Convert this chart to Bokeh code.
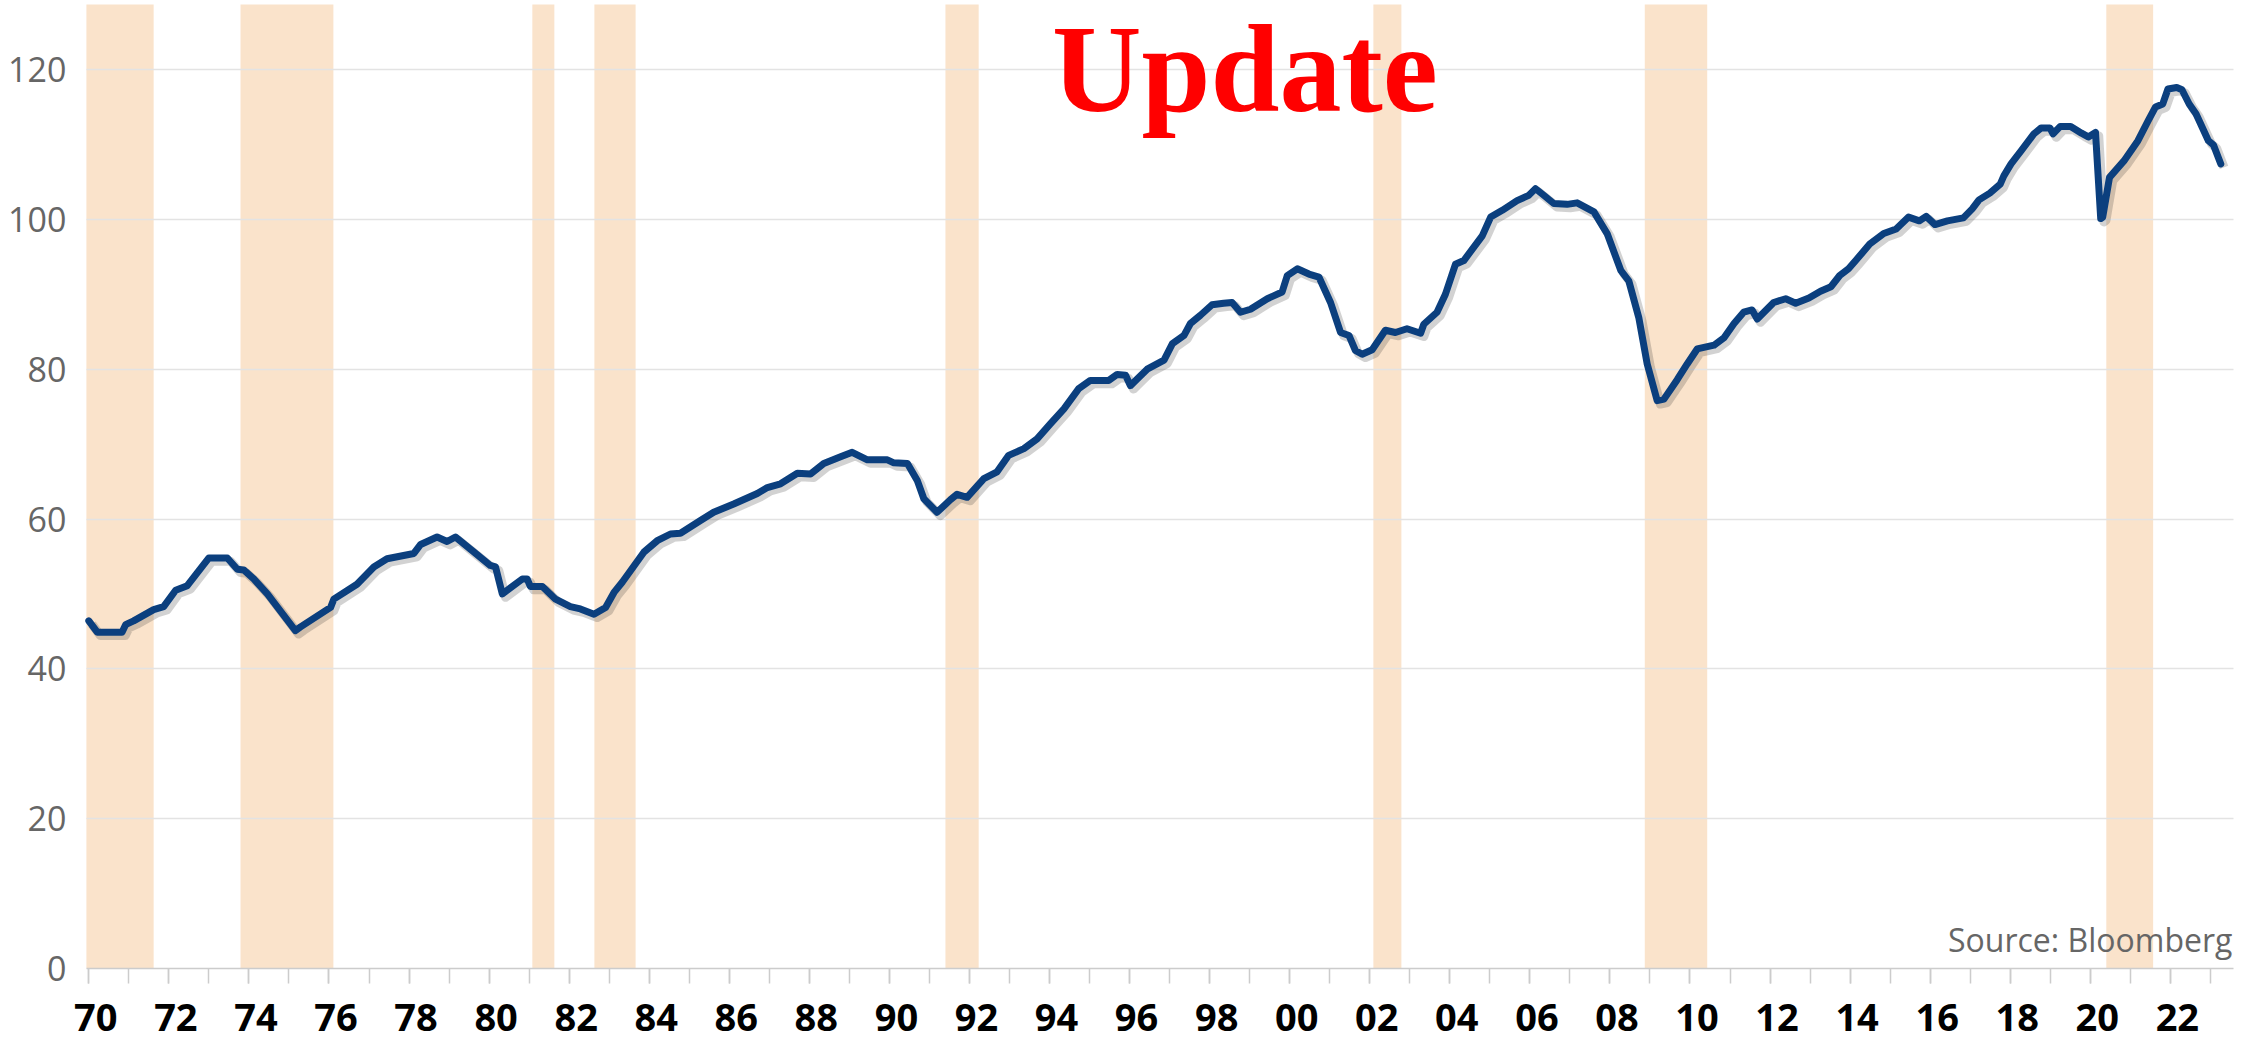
from bokeh.plotting import figure
from bokeh.models import (Range1d, SingleIntervalTicker, FixedTicker, CustomJSTickFormatter,
                          Label, ColumnDataSource, Grid, LinearAxis)
from bokeh.transform import dodge
from bokeh.embed import file_html
from bokeh.resources import INLINE

# ---- data ----
years = [1970.00, 1970.21, 1970.83, 1970.92, 1971.12, 1971.62, 1971.87, 1972.17, 1972.46, 1973.00,
         1973.46, 1973.71, 1973.87, 1974.12, 1974.46, 1975.16, 1975.29, 1976.04, 1976.12, 1976.70,
         1977.12, 1977.45, 1978.12, 1978.29, 1978.70, 1978.95, 1979.16, 1979.62, 1980.03, 1980.16,
         1980.33, 1980.83, 1980.95, 1981.03, 1981.33, 1981.66, 1982.03, 1982.28, 1982.62, 1982.91,
         1983.12, 1983.33, 1983.87, 1984.20, 1984.53, 1984.78, 1985.28, 1985.61, 1986.11, 1986.70,
         1986.95, 1987.28, 1987.70, 1988.03, 1988.36, 1988.78, 1989.07, 1989.45, 1989.95, 1990.11,
         1990.45, 1990.70, 1990.86, 1991.19, 1991.53, 1991.69, 1991.94, 1992.36, 1992.69, 1992.98,
         1993.36, 1993.69, 1994.02, 1994.36, 1994.73, 1995.02, 1995.48, 1995.69, 1995.90, 1996.02,
         1996.19, 1996.44, 1996.86, 1997.07, 1997.36, 1997.52, 1997.77, 1998.06, 1998.35, 1998.56,
         1998.77, 1999.02, 1999.44, 1999.81, 1999.94, 2000.19, 2000.48, 2000.73, 2001.02, 2001.27,
         2001.48, 2001.64, 2001.81, 2002.06, 2002.39, 2002.64, 2002.93, 2003.27, 2003.35, 2003.68,
         2003.89, 2004.14, 2004.35, 2004.81, 2005.02, 2005.31, 2005.68, 2005.97, 2006.14, 2006.35,
         2006.60, 2006.93, 2007.18, 2007.60, 2007.93, 2008.27, 2008.47, 2008.72, 2008.93, 2009.18,
         2009.35, 2009.68, 2009.93, 2010.18, 2010.60, 2010.85, 2011.10, 2011.34, 2011.55, 2011.68,
         2012.09, 2012.39, 2012.64, 2012.97, 2013.26, 2013.52, 2013.74, 2013.96, 2014.14, 2014.49,
         2014.84, 2015.15, 2015.46, 2015.73, 2015.90, 2016.12, 2016.43, 2016.83, 2017.05, 2017.22,
         2017.49, 2017.75, 2017.84, 2018.02, 2018.28, 2018.59, 2018.77, 2018.99, 2019.07, 2019.25,
         2019.51, 2019.78, 2019.95, 2020.13, 2020.26, 2020.31, 2020.48, 2020.84, 2021.19, 2021.45,
         2021.63, 2021.81, 2021.94, 2022.16, 2022.29, 2022.47, 2022.64, 2022.95, 2023.08, 2023.26]

index_values = [46.4, 44.9, 44.9, 45.9, 46.4, 47.9, 48.3, 50.5, 51.1, 54.8,
                54.8, 53.3, 53.2, 52.0, 50.0, 45.1, 45.6, 48.2, 49.3, 51.3,
                53.6, 54.7, 55.4, 56.6, 57.6, 57.0, 57.6, 55.6, 53.8, 53.6,
                50.0, 52.0, 52.0, 51.0, 51.0, 49.3, 48.3, 48.0, 47.3, 48.2,
                50.2, 51.6, 55.6, 57.1, 58.0, 58.1, 59.8, 60.9, 62.0, 63.4,
                64.2, 64.7, 66.1, 66.0, 67.4, 68.3, 68.9, 67.9, 67.9, 67.5,
                67.4, 65.1, 62.7, 60.9, 62.6, 63.3, 62.9, 65.4, 66.3, 68.5,
                69.4, 70.7, 72.7, 74.7, 77.4, 78.5, 78.5, 79.3, 79.2, 77.8,
                78.7, 80.0, 81.2, 83.4, 84.5, 86.1, 87.2, 88.6, 88.8, 88.9,
                87.6, 88.0, 89.4, 90.3, 92.5, 93.4, 92.7, 92.3, 88.9, 84.9,
                84.5, 82.5, 82.0, 82.6, 85.2, 84.9, 85.4, 84.8, 86.0, 87.6,
                90.0, 94.0, 94.5, 97.8, 100.3, 101.2, 102.5, 103.2, 104.1, 103.2,
                102.1, 102.0, 102.2, 101.0, 98.1, 93.2, 91.8, 86.9, 80.7, 75.8,
                76.0, 78.6, 80.7, 82.7, 83.2, 84.2, 86.1, 87.6, 87.9, 86.7,
                88.9, 89.4, 88.8, 89.5, 90.4, 91.0, 92.5, 93.4, 94.5, 96.7,
                98.1, 98.7, 100.3, 99.8, 100.4, 99.3, 99.8, 100.2, 101.4, 102.6,
                103.5, 104.7, 105.8, 107.4, 109.2, 111.4, 112.2, 112.2, 111.4, 112.4,
                112.4, 111.5, 111.0, 111.6, 100.1, 100.3, 105.6, 107.8, 110.5, 113.2,
                115.0, 115.4, 117.4, 117.6, 117.3, 115.4, 114.1, 110.5, 109.9, 107.4]

band_start = [1969.94, 1973.79, 1981.08, 1982.63, 1991.40, 2002.09, 2008.87, 2020.40]
band_end = [1971.62, 1976.11, 1981.63, 1983.66, 1992.23, 2002.79, 2010.43, 2021.57]

y_ticks = [0, 20, 40, 60, 80, 100, 120]
x_label_years = list(range(1970, 2023, 2))
title_text = "Update"
source_text = "Source: Bloomberg"

# plot area (data units) and the whole canvas extent around it
PLOT_X0, PLOT_X1 = 1969.94, 2023.58
PLOT_TOP = 128.68
VIEW_X0, VIEW_X1 = 1967.794, 2024.077
VIEW_Y0, VIEW_Y1 = -9.74, 129.21
LABEL_SHIFT = 0.175   # year labels sit slightly right of their tick marks

# ---- figure ----
p = figure(width=2253, height=1041,
           x_range=Range1d(VIEW_X0, VIEW_X1), y_range=Range1d(VIEW_Y0, VIEW_Y1),
           output_backend="svg", toolbar_location=None,
           min_border_left=0, min_border_right=0, min_border_top=0, min_border_bottom=0)
p.outline_line_color = None
p.background_fill_color = "white"
p.border_fill_color = "white"

# shaded bands
bands = ColumnDataSource(dict(left=band_start, right=band_end,
                              bottom=[0] * len(band_start), top=[PLOT_TOP] * len(band_start)))
p.quad(left="left", right="right", bottom="bottom", top="top", source=bands,
       fill_color="#FAE3CB", line_color=None, level="image")

# line with soft drop shadow
src = ColumnDataSource(dict(x=years, y=index_values))
p.line(x=dodge("x", 0.08), y=dodge("y", -0.45), source=src,
       line_color="#333333", line_alpha=0.22, line_width=9, line_join="round")
p.line(x="x", y="y", source=src, line_color="#0B3F7E", line_width=7,
       line_join="round", line_cap="round")

# horizontal grid restricted to the plot area
p.xgrid.visible = False
p.ygrid.ticker = FixedTicker(ticks=y_ticks[1:])
p.ygrid.grid_line_color = "#E3E3E3"
p.ygrid.grid_line_width = 1.5
if "cross_bounds" in Grid.properties():
    p.ygrid.cross_bounds = (PLOT_X0, PLOT_X1)
else:
    p.ygrid.visible = False
    p.segment(x0=[PLOT_X0] * 6, x1=[PLOT_X1] * 6, y0=y_ticks[1:], y1=y_ticks[1:],
              line_color="#E3E3E3", line_width=1.5, level="underlay")

# y axis pinned at the left edge of the plot area
p.yaxis.fixed_location = PLOT_X0
p.yaxis.ticker = FixedTicker(ticks=y_ticks)
p.yaxis.bounds = (0, 120)
p.yaxis.axis_line_color = None
p.yaxis.major_tick_line_color = None
p.yaxis.minor_tick_line_color = None
p.yaxis.major_label_standoff = 14
p.yaxis.major_label_text_font = "Open Sans"
p.yaxis.major_label_text_font_size = "34px"
p.yaxis.major_label_text_color = "#666666"

# x axis (line + yearly ticks) pinned at y = 0
xa = p.xaxis[0]
xa.fixed_location = 0
xa.bounds = (PLOT_X0, PLOT_X1)
xa.ticker = SingleIntervalTicker(interval=2, num_minor_ticks=2)
xa.major_label_text_font_size = "0px"
xa.major_label_text_alpha = 0
xa.axis_line_color = "#CCCCCC"
xa.axis_line_width = 1.5
xa.major_tick_line_color = "#CCCCCC"
xa.minor_tick_line_color = "#CCCCCC"
xa.major_tick_line_width = 1.5
xa.minor_tick_line_width = 1.5
xa.major_tick_in = 0
xa.minor_tick_in = 0
xa.major_tick_out = 15
xa.minor_tick_out = 15

# second x axis carrying the two-digit year labels
xl = LinearAxis(fixed_location=0,
                ticker=FixedTicker(ticks=[yr + LABEL_SHIFT for yr in x_label_years]),
                formatter=CustomJSTickFormatter(code="""
                    const t = Math.floor(tick) % 100;
                    return (t < 10 ? '0' : '') + t;
                """))
xl.axis_line_color = None
xl.major_tick_line_color = None
xl.minor_tick_line_color = None
xl.major_tick_out = 15
xl.major_label_standoff = 20
xl.major_label_text_font = "Open Sans"
xl.major_label_text_font_style = "bold"
xl.major_label_text_font_size = "38px"
xl.major_label_text_color = "#000000"
p.add_layout(xl, "below")

# texts
p.add_layout(Label(x=1998.88, y=120.0, text=title_text, text_align="center",
                   text_baseline="alphabetic", text_font="Liberation Serif",
                   text_font_style="bold", text_font_size="124px", text_color="#FF0000"))
p.add_layout(Label(x=2023.55, y=3.9, text=source_text, text_align="right",
                   text_baseline="alphabetic", text_font="Open Sans",
                   text_font_size="32px", text_color="#666666"))

open("out.html", "w").write(file_html(p, INLINE))
